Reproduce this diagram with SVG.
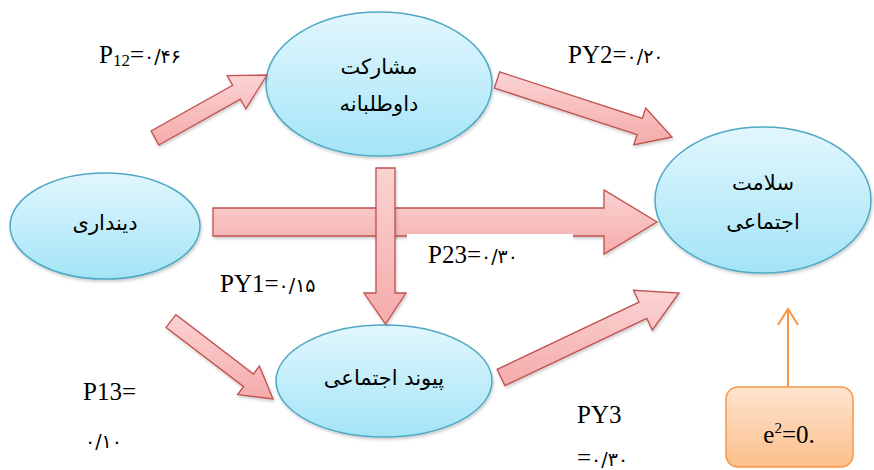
<svg xmlns="http://www.w3.org/2000/svg" width="874" height="470" viewBox="0 0 874 470">
<defs>
<linearGradient id="gEll" x1="0" y1="0" x2="0" y2="1">
<stop offset="0" stop-color="#e2f7fd"/>
<stop offset="1" stop-color="#a3e4f7"/>
</linearGradient>
<linearGradient id="gArr" x1="0" y1="0" x2="0" y2="1">
<stop offset="0" stop-color="#fbd3d3"/>
<stop offset="1" stop-color="#f5abab"/>
</linearGradient>
<linearGradient id="gBox" x1="0" y1="0" x2="0" y2="1">
<stop offset="0" stop-color="#fee4cf"/>
<stop offset="1" stop-color="#fbbf8c"/>
</linearGradient>
<filter id="sh" x="-10%" y="-10%" width="130%" height="130%">
<feDropShadow dx="1" dy="2" stdDeviation="1.5" flood-color="#000" flood-opacity="0.2"/>
</filter>
</defs>
<style>
.ell{fill:url(#gEll);stroke:#4fa9c4;stroke-width:1.5;filter:url(#sh)}
.arr{fill:url(#gArr);stroke:#c0504d;stroke-width:1.3;stroke-linejoin:miter;filter:url(#sh)}
.fa{font-family:'DejaVu Sans',sans-serif;font-size:21px;fill:#000;text-anchor:middle}
.lb{font-family:'Liberation Serif','DejaVu Serif',serif;font-size:25px;fill:#000}
.pd{font-family:'DejaVu Sans',sans-serif;font-size:19px}
</style>

<g id="node-mosharekat">
<ellipse class="ell" cx="379" cy="84" rx="113" ry="72"/>
<text class="fa" x="379" y="74" direction="rtl">مشارکت</text>
<text class="fa" x="379" y="111" direction="rtl">داوطلبانه</text>
</g>
<g id="node-dindari">
<ellipse class="ell" cx="105" cy="226" rx="95" ry="53"/>
<text class="fa" x="105" y="230" direction="rtl">دینداری</text>
</g>
<g id="node-salamat">
<ellipse class="ell" cx="763" cy="200" rx="108" ry="73"/>
<text class="fa" x="763" y="190" direction="rtl">سلامت</text>
<text class="fa" x="763" y="229" direction="rtl">اجتماعی</text>
</g>
<g id="node-peyvand">
<ellipse class="ell" cx="384" cy="381" rx="108" ry="56"/>
<text class="fa" x="384" y="385" direction="rtl">پیوند اجتماعی</text>
</g>
<g id="node-error">
<rect x="726" y="387" width="127" height="80" rx="12" ry="12" fill="url(#gBox)" stroke="#f79646" stroke-width="1.5"/>
<text class="lb" x="789" y="443" text-anchor="middle">e<tspan font-size="15" dy="-10">2</tspan><tspan dy="10">=0.</tspan></text>
</g>

<g id="connectors">
<polygon class="arr" points="213,208 604,208 604,190 657,222 604,254 604,236 213,236"/>
<polygon class="arr" points="376,168 395,168 395,293 406,293 385.5,324 364,293 376,293"/>
<polygon class="arr" points="158.9,145 240.4,99.2 245.8,108.8 267,75 227.2,75.6 232.6,85.2 151.1,131"/>
<polygon class="arr" points="494.4,88.1 637.1,134.6 633.7,145 672,137 645.7,108 642.3,118.4 499.6,71.9"/>
<polygon class="arr" points="166.1,327.4 243.6,386.7 237.6,394.6 273,399 259.4,366 253.4,374 175.9,314.7"/>
<polygon class="arr" points="504.9,385.6 646.8,318.3 652.3,330.1 679,293 633.5,290.3 639,302.1 497.1,369.4"/>
<line x1="788" y1="387" x2="788" y2="309" stroke="#f79646" stroke-width="2"/>
<polyline points="778,325 788,309 798,325" fill="none" stroke="#f79646" stroke-width="2"/>
</g>

<g id="labels">
<text class="lb" x="99" y="63">P<tspan font-size="17" dy="3">12</tspan><tspan dy="-3">=</tspan><tspan class="pd">۰/۴۶</tspan></text>
<text class="lb" x="568" y="63">PY2=<tspan class="pd">۰/۲۰</tspan></text>
<rect x="407" y="234" width="166" height="38" fill="#fff"/>
<text class="lb" x="428" y="263">P23=<tspan class="pd">۰/۳۰</tspan></text>
<text class="lb" x="220" y="292">PY1=<tspan class="pd">۰/۱۵</tspan></text>
<text class="lb" x="83" y="400">P13=</text>
<text class="lb" x="85" y="448"><tspan class="pd">۰/۱۰</tspan></text>
<text class="lb" x="577" y="423">PY3</text>
<text class="lb" x="577" y="466">=<tspan class="pd">۰/۳۰</tspan></text>
</g>
</svg>
